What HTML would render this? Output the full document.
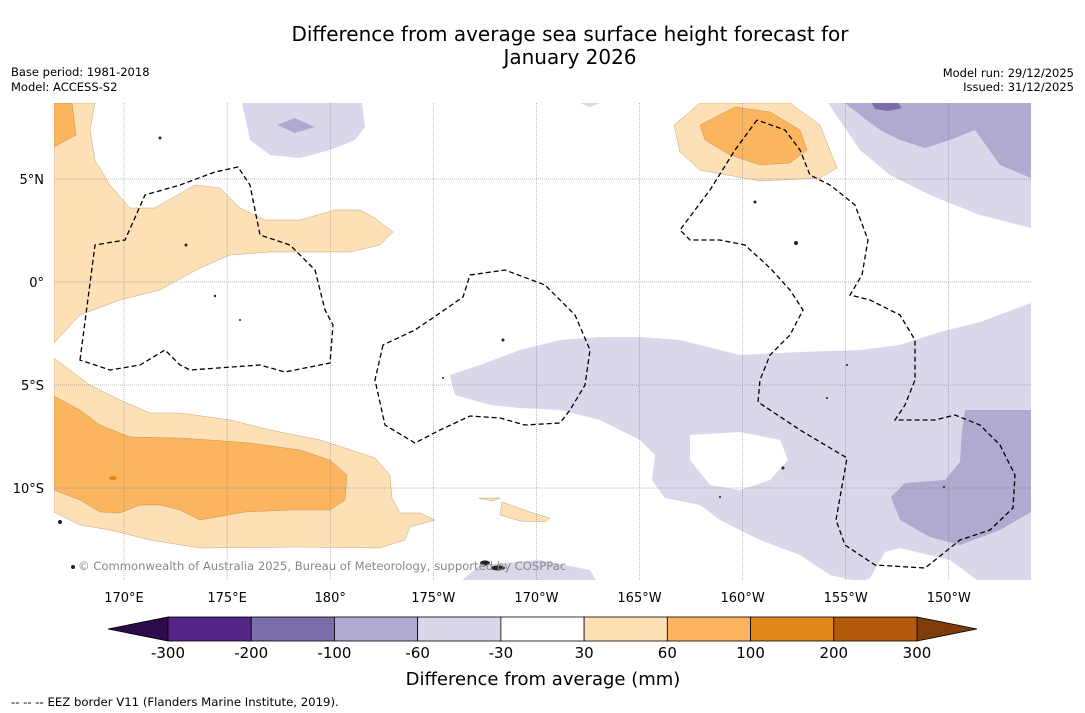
<!DOCTYPE html>
<html><head><meta charset="utf-8"><style>
body{margin:0;background:#fff;font-family:"DejaVu Sans","Liberation Sans",sans-serif;}
svg{display:block}
</style></head><body>
<svg id="fig" width="1085" height="713" viewBox="0 0 1085 713" xmlns="http://www.w3.org/2000/svg" font-family="DejaVu Sans, Liberation Sans, sans-serif">
<rect width="1085" height="713" fill="#fff"/>
<text x="570" y="41" text-anchor="middle" font-size="20" fill="#000">Difference from average sea surface height forecast for</text>
<text x="570" y="64" text-anchor="middle" font-size="20" fill="#000">January 2026</text>
<text x="11" y="76" font-size="11.5">Base period: 1981-2018</text>
<text x="11" y="91" font-size="11.5">Model: ACCESS-S2</text>
<text x="1074" y="77" font-size="11.5" text-anchor="end">Model run: 29/12/2025</text>
<text x="1074" y="91" font-size="11.5" text-anchor="end">Issued: 31/12/2025</text>

<defs><clipPath id="mapclip"><rect x="54" y="103" width="977" height="477"/></clipPath></defs>
<g clip-path="url(#mapclip)">
<rect x="54" y="103" width="977" height="477" fill="#fff"/>
<polygon fill="#fde0b6" stroke="#a07040" stroke-width="0.3" points="54,103 95,103 90,130 95,160 110,185 130,208 155,208 195,185 220,188 240,208 265,220 300,220 335,210 360,210 375,218 393,232 380,245 350,252 270,252 230,255 200,268 160,290 120,300 80,315 54,343"/>
<polygon fill="#fbb55e" stroke="#a07040" stroke-width="0.3" points="54,103 72,103 76,135 54,147"/>
<polygon fill="#fde0b6" stroke="#a07040" stroke-width="0.3" points="54,358 70,370 90,385 120,400 150,413 180,413 230,420 270,430 320,440 345,448 375,458 390,475 392,498 400,513 420,513 435,520 410,527 405,540 380,548 300,547 200,548 150,540 110,530 80,525 54,512"/>
<polygon fill="#fbb55e" stroke="#a07040" stroke-width="0.3" points="54,396 80,410 100,425 130,437 180,438 210,440 250,443 300,450 330,460 347,475 345,500 330,510 290,510 245,512 200,520 180,510 160,505 140,505 120,513 100,512 80,500 54,490"/>
<ellipse cx="113" cy="478" rx="4" ry="2" fill="#e0861a"/>
<polygon fill="#fde0b6" stroke="#a07040" stroke-width="0.3" points="502,502 530,512 550,518 545,522 520,521 500,515"/>
<polygon fill="#fde0b6" stroke="#a07040" stroke-width="0.3" points="479,498 500,498 492,501"/>
<polygon fill="#fde0b6" stroke="#a07040" stroke-width="0.3" points="674,125 700,103 790,103 820,125 837,168 820,178 760,181 700,170 680,152"/>
<polygon fill="#fbb55e" stroke="#a07040" stroke-width="0.3" points="700,125 735,107 770,112 800,130 807,150 790,163 760,165 730,155 705,140"/>
<polygon fill="#d8d8ea" points="828,103 1031,103 1031,228 980,215 930,195 890,175 860,150"/>
<polygon fill="#b0a9d0" points="845,103 1031,103 1031,178 1000,165 975,130 950,140 925,148 900,140 880,130 860,115"/>
<polygon fill="#7b6ea8" points="872,103 898,103 902,108 888,111 875,109"/>
<polygon fill="#d8d8ea" points="242,103 362,103 365,127 355,140 330,150 300,158 270,155 250,140"/>
<polygon fill="#b0a9d0" points="277,125 295,118 315,127 295,133"/>
<polygon fill="#d8d8ea" points="580,103 600,103 590,107"/>
<path fill="#d8d8ea" fill-rule="evenodd" d="M450,375 L455,395 L490,405 L520,408 L560,410 L600,420 L640,440 L655,455 L652,480 L665,498 L700,505 L720,520 L760,540 L800,555 L830,575 L860,582 L870,578 L885,552 L900,548 L950,560 L980,582 L1031,582 L1031,303 L980,322 L940,332 L900,345 L860,350 L800,352 L740,355 L680,340 L640,337 L600,337 L560,340 L520,350 L480,365 Z M690,435 L740,432 L780,440 L788,460 L770,480 L740,490 L710,485 L690,460 Z"/>
<polygon fill="#b0a9d0" points="965,410 1031,410 1031,512 1000,530 960,545 930,537 900,520 891,497 905,483 945,480 960,462 962,430"/>
<polygon fill="#d8d8ea" points="460,582 480,565 540,560 590,570 597,582"/>
<g id="grid" stroke="#777" stroke-width="0.5" stroke-dasharray="1,1"></g>
<g fill="none" stroke="#000" stroke-width="1.3" stroke-dasharray="5,3">
<polygon points="80,360 95,245 125,240 145,195 180,185 215,172 238,167 250,185 260,235 290,245 315,270 325,310 333,325 330,363 285,372 260,365 190,370 180,365 165,350 140,365 110,370"/>
<polygon points="383,345 375,380 385,425 415,443 440,430 470,416 500,418 525,425 560,423 570,410 585,385 590,350 575,315 545,285 505,270 470,275 463,297 440,313 415,330"/>
<polyline points="757,120 735,150 710,190 680,230 690,240 720,240 745,245 770,268 790,290 803,310 790,335 770,355 760,380 758,402 800,430 847,458 836,520 845,545 875,565 925,568 960,540 990,530 1013,508 1015,475 1000,445 980,425 955,415 935,420 915,420 895,420 905,405 915,380 915,340 900,315 870,300 850,295 862,275 868,240 855,205 830,185 810,175 800,150 785,130 757,120"/>
</g>
<g fill="#222">
<circle cx="186" cy="245" r="1.5"/><circle cx="215" cy="296" r="1.2"/><circle cx="240" cy="320" r="1"/><circle cx="503" cy="340" r="1.5"/><circle cx="443" cy="378" r="1"/><circle cx="755" cy="202" r="1.5"/><circle cx="796" cy="243" r="2"/><circle cx="783" cy="468" r="1.5"/><circle cx="720" cy="497" r="1"/><circle cx="60" cy="522" r="2"/><circle cx="73" cy="567" r="2"/><ellipse cx="498" cy="568" rx="7" ry="2.5"/><ellipse cx="485" cy="563" rx="5" ry="2.5"/><circle cx="160" cy="138" r="1.5"/><circle cx="847" cy="365" r="1"/><circle cx="827" cy="398" r="1"/><circle cx="944" cy="487" r="1"/>
</g>
<text x="78" y="570" font-size="11.6" fill="#888">© Commonwealth of Australia 2025, Bureau of Meteorology, supported by COSPPac</text>
</g>
<g id="axislabels" font-size="13" fill="#000"></g>
<g id="colorbar"></g>
<text x="543" y="685" text-anchor="middle" font-size="18">Difference from average (mm)</text>
<text x="11" y="706" font-size="11.7">--  --  -- EEZ border V11 (Flanders Marine Institute, 2019).</text>
</svg>
<script>
const lonLabels=["170°E","175°E","180°","175°W","170°W","165°W","160°W","155°W","150°W"];
const lonValues=[170,175,180,185,190,195,200,205,210];
const latLabels=["5°N","0°","5°S","10°S"];
const latValues=[5,0,-5,-10];
const levelLabels=["-300","-200","-100","-60","-30","30","60","100","200","300"];
const levelColors=["#552586","#7b6ea8","#b0a9d0","#d8d8ea","#ffffff","#fde0b6","#fbb55e","#e0861a","#b35a0a"];
const NS="http://www.w3.org/2000/svg";
const xLon=v=>124+(v-170)*20.62;
const yLat=v=>282-v*20.6;
const grid=document.getElementById('grid'),ax=document.getElementById('axislabels'),cb=document.getElementById('colorbar');
function mk(t,a,p){const e=document.createElementNS(NS,t);for(const k in a)e.setAttribute(k,a[k]);p.appendChild(e);return e;}
lonValues.forEach((v,i)=>{const x=xLon(v);
 const l=mk('line',{x1:x,y1:103,x2:x,y2:580},grid);
 
 
 const t=mk('text',{x:x,y:602,'text-anchor':'middle'},ax);t.textContent=lonLabels[i];
 
 });
latValues.forEach((v,i)=>{const y=yLat(v);
 const l=mk('line',{x1:54,y1:y,x2:1031,y2:y},grid);
 
 
 const t=mk('text',{x:44,y:y+5,'text-anchor':'end'},ax);t.textContent=latLabels[i];
 
 });
const x0=168,x1=917,y0=617,h=24,w=(x1-x0)/levelColors.length;
const lt=mk('polygon',{points:`108,${y0+h/2} ${x0},${y0} ${x0},${y0+h}`,fill:'#2d0a4a',stroke:'#000','stroke-width':0.8},cb);


const rt=mk('polygon',{points:`977,${y0+h/2} ${x1},${y0} ${x1},${y0+h}`,fill:'#7f3b08',stroke:'#000','stroke-width':0.8},cb);


levelColors.forEach((c,i)=>{const r=mk('rect',{x:x0+i*w,y:y0,width:w,height:h,fill:c,stroke:'#000','stroke-width':0.8},cb);
 
 });
levelLabels.forEach((s,i)=>{const t=mk('text',{x:x0+i*w,y:658,'text-anchor':'middle','font-size':15},cb);t.textContent=s;
 
 });
</script>
</body></html>
